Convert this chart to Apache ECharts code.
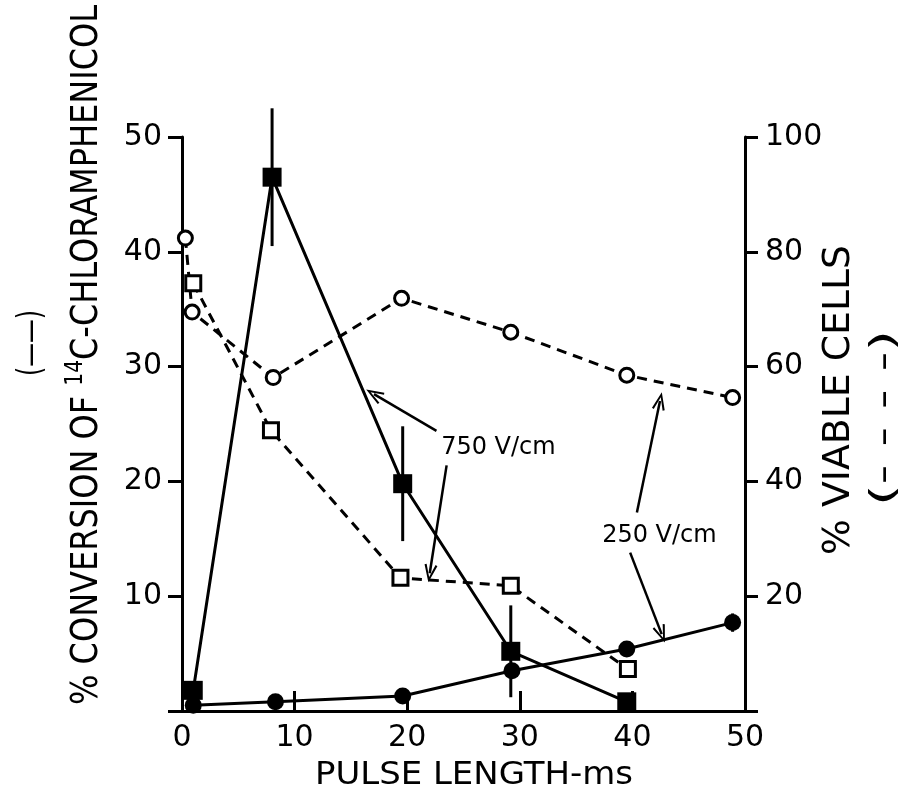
<!DOCTYPE html>
<html>
<head>
<meta charset="utf-8">
<script src="https://cdn.jsdelivr.net/npm/echarts@6/dist/echarts.min.js"></script>
<style>
html,body{margin:0;padding:0;background:#fff;}
#chart{width:899px;height:795px;}
</style>
</head>
<body>
<div id="chart"></div>
<script>
// ---- data ----
const xTicks = [0, 10, 20, 30, 40, 50];
const leftTicks = [10, 20, 30, 40, 50];
const rightTicks = [20, 40, 60, 80, 100];

// 750 V/cm, % conversion (solid squares, solid line, left axis)
const sq750X = [1, 8, 19.6, 29.2, 39.5];
const sq750Conv = [1.8, 46.5, 19.8, 5.2, 0.8];
const sq750ConvErr = [0, 6, 5, 4, 0];

// 250 V/cm, % conversion (solid circles, solid line, left axis)
const c250X = [1, 8.3, 19.6, 29.3, 39.5, 48.9];
const c250Conv = [0.5, 0.8, 1.3, 3.5, 5.4, 7.7];
const c250ConvErr = [0, 0, 0, 0, 0, 0.8];

// 750 V/cm, % viable cells (open squares, dashed, right axis)
const open750X = [1, 7.9, 19.4, 29.2, 39.6];
const open750Viab = [74.5, 48.9, 23.2, 21.8, 7.3];

// 250 V/cm, % viable cells (open circles, dashed, right axis)
const open250X = [0.3, 0.9, 8.1, 19.5, 29.2, 39.5, 48.9];
const open250Viab = [82.4, 69.5, 58.1, 71.9, 66, 58.5, 54.6];

// annotation labels and arrows (data coordinates, left axis)
const noteTexts = ['750 V/cm', '250 V/cm'];
const notePos = [[28.1, 22.9], [42.4, 15.3]];
const arrowFrom = [[22.6, 24.4], [23.5, 21.4], [40.4, 17.3], [39.8, 13.8]];
const arrowTo = [[17.05, 27.6], [22.0, 12.0], [42.45, 27.0], [42.6, 6.7]];

// ---- helpers ----
const zip = (xs, ys) => xs.map((x, i) => [x, ys[i]]);
const FONT = 'DejaVu Sans';
const ctx = document.createElement('canvas').getContext('2d');
function measure(text, size) { ctx.font = size + 'px "' + FONT + '"'; return ctx.measureText(text).width; }

const errData = [];
sq750X.forEach((x, i) => { if (sq750ConvErr[i]) errData.push([x, sq750Conv[i] - sq750ConvErr[i], sq750Conv[i] + sq750ConvErr[i]]); });
c250X.forEach((x, i) => { if (c250ConvErr[i]) errData.push([x, c250Conv[i] - c250ConvErr[i], c250Conv[i] + c250ConvErr[i]]); });

const chevron = 'path://M0,20 L10,0 L20,20 L17,21 L10,6 L3,21 Z';

const chart = echarts.init(document.getElementById('chart'), null, {renderer: 'canvas'});

const dash = [10, 7];
const option = {
  animation: false,
  backgroundColor: '#fff',
  grid: {left: 182, right: 154, top: 137, bottom: 84},
  xAxis: {
    type: 'value', min: 0, max: 50, interval: 10,
    axisLine: {show: true, onZero: false, lineStyle: {color: '#000', width: 3}},
    axisTick: {show: true, inside: true, length: 20, lineStyle: {color: '#000', width: 3}},
    axisLabel: {color: '#000', fontSize: 30, fontFamily: FONT, margin: 12,
      formatter: v => xTicks.includes(v) ? String(v) : ''},
    splitLine: {show: false}
  },
  yAxis: [{
    type: 'value', min: 0, max: 50, interval: 10, position: 'left',
    axisLine: {show: true, onZero: false, lineStyle: {color: '#000', width: 3}},
    axisTick: {show: true, length: 14, lineStyle: {color: '#000', width: 3}},
    axisLabel: {color: '#000', fontSize: 30, fontFamily: FONT, margin: 20,
      formatter: v => leftTicks.includes(v) ? String(v) : ''},
    splitLine: {show: false}
  }, {
    type: 'value', min: 0, max: 100, interval: 20, position: 'right',
    axisLine: {show: true, onZero: false, lineStyle: {color: '#000', width: 3}},
    axisTick: {show: true, length: 13, lineStyle: {color: '#000', width: 3}},
    axisLabel: {color: '#000', fontSize: 30, fontFamily: FONT, margin: 20,
      formatter: v => rightTicks.includes(v) ? String(v) : ''},
    splitLine: {show: false}
  }],
  series: [
    {
      name: 'viable 250', type: 'line', yAxisIndex: 1, data: zip(open250X, open250Viab),
      symbol: 'circle', symbolSize: 14, z: 3,
      lineStyle: {color: '#000', width: 3, type: dash},
      itemStyle: {color: '#fff', borderColor: '#000', borderWidth: 3}
    },
    {
      name: 'viable 750', type: 'line', yAxisIndex: 1, data: zip(open750X, open750Viab),
      symbol: 'rect', symbolSize: 15, z: 3,
      lineStyle: {color: '#000', width: 3, type: dash},
      itemStyle: {color: '#fff', borderColor: '#000', borderWidth: 3}
    },
    {
      name: 'conv 250', type: 'line', yAxisIndex: 0, data: zip(c250X, c250Conv),
      symbol: 'circle', symbolSize: 17, z: 4,
      lineStyle: {color: '#000', width: 3},
      itemStyle: {color: '#000', borderWidth: 0},
      markLine: {
        silent: true, symbol: ['none', chevron], symbolSize: [13, 18],
        label: {show: false},
        lineStyle: {color: '#000', width: 2.5, type: 'solid'},
        data: arrowFrom.map((f, i) => [{coord: f}, {coord: arrowTo[i]}])
      },
      markPoint: {
        silent: true, symbol: 'circle', symbolSize: 1,
        itemStyle: {color: 'rgba(0,0,0,0)'},
        label: {show: true, position: 'inside', color: '#000', fontSize: 24, fontFamily: FONT,
          formatter: p => p.name},
        data: noteTexts.map((t, i) => ({name: t, coord: notePos[i]}))
      }
    },
    {
      name: 'conv 750', type: 'line', yAxisIndex: 0, data: zip(sq750X, sq750Conv),
      symbol: 'rect', symbolSize: 19, z: 5,
      lineStyle: {color: '#000', width: 3},
      itemStyle: {color: '#000', borderWidth: 0}
    },
    {
      name: 'error', type: 'custom', yAxisIndex: 0, data: errData, z: 5,
      renderItem: (params, api) => {
        const a = api.coord([api.value(0), api.value(1)]);
        const b = api.coord([api.value(0), api.value(2)]);
        return {type: 'line', shape: {x1: a[0], y1: a[1], x2: b[0], y2: b[1]},
          style: {stroke: '#000', lineWidth: 3}};
      }
    }
  ]
};

// axis titles as rotated/condensed text
function titleText(x, y, parts, targetLen, rot) {
  let natural = 0;
  parts.forEach(p => natural += measure(p[0], p[1]));
  const rich = {a: {fontSize: parts[0][1], fontFamily: FONT, fill: '#000', lineHeight: parts[0][1] * 1.1, verticalAlign: 'bottom'},
                s: {fontSize: 24, fontFamily: FONT, fill: '#000', lineHeight: parts[0][1] * 1.1, verticalAlign: 'top'}};
  const text = parts.map(p => '{' + (p[2] ? 's' : 'a') + '|' + p[0] + '}').join('');
  return {
    type: 'text', x: x, y: y, rotation: rot, scaleX: targetLen / natural, scaleY: 1,
    style: {text: text, rich: rich, align: 'center', verticalAlign: 'middle'}
  };
}

option.graphic = [
  titleText(85, 355, [['% CONVERSION OF ', 38], ['14', 24, true], ['C-CHLORAMPHENICOL', 38]], 700, Math.PI / 2),
  titleText(30, 343, [['(——)', 34]], 66, Math.PI / 2),
  titleText(837, 400, [['% VIABLE CELLS', 38]], 310, Math.PI / 2),
  titleText(883, 418, [['(- - - -)', 34]], 176, Math.PI / 2),
  titleText(474, 774, [['PULSE LENGTH-ms', 32]], 318, 0)
];

chart.setOption(option);
</script>
</body>
</html>
